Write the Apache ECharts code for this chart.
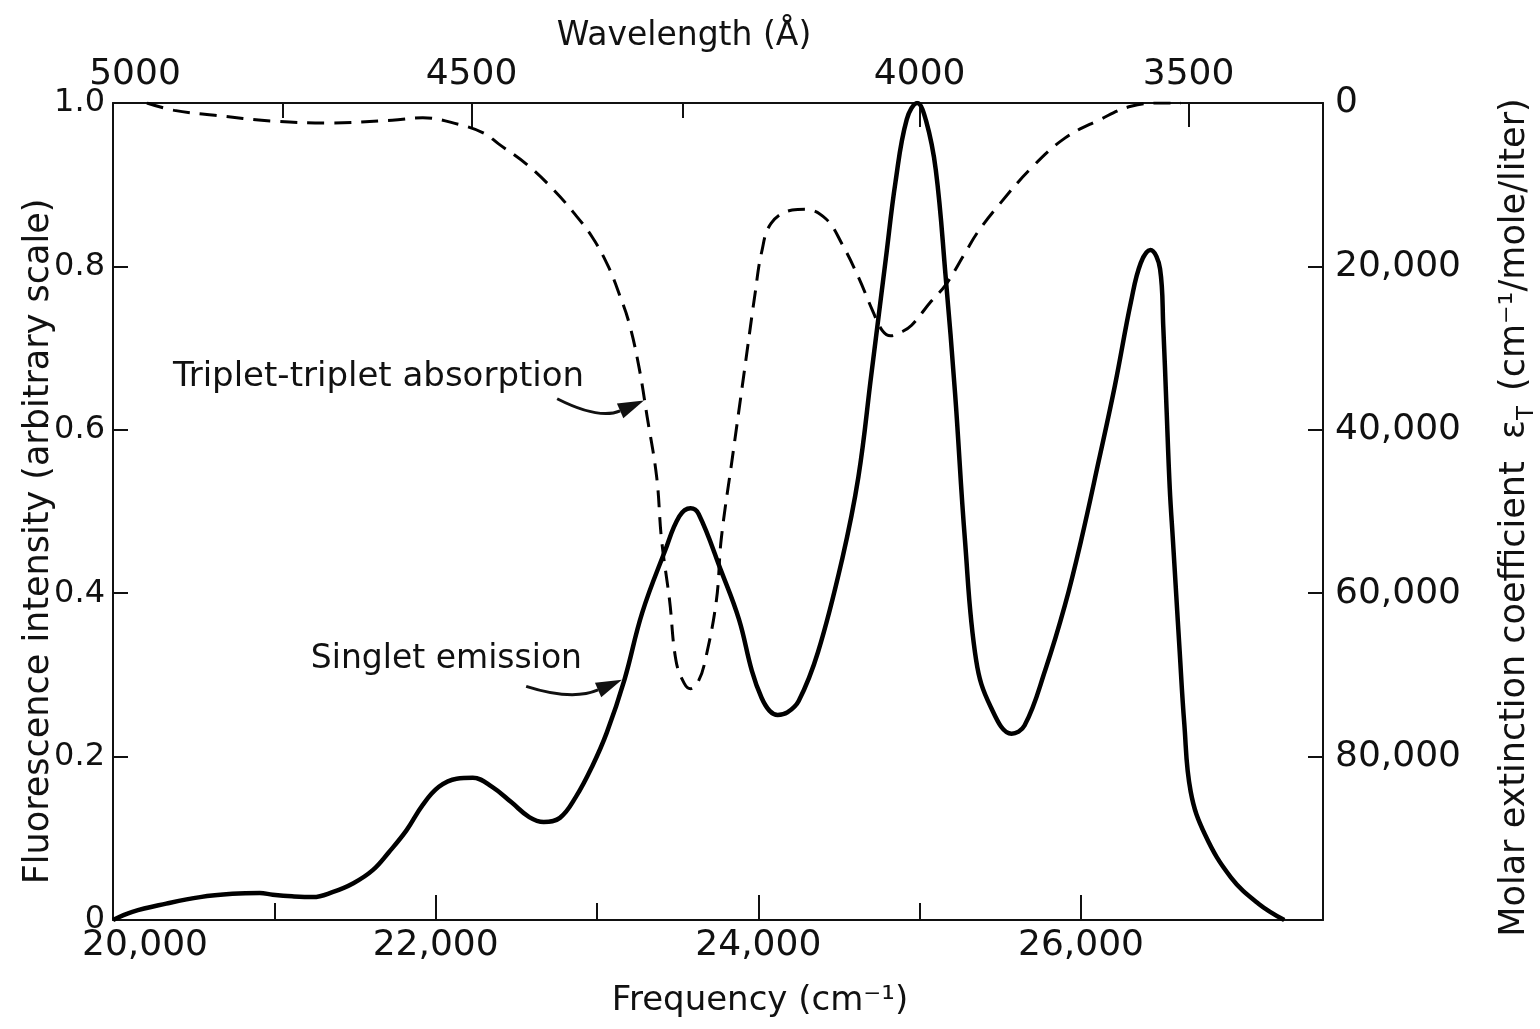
<!DOCTYPE html>
<html>
<head>
<meta charset="utf-8">
<script src="https://cdn.jsdelivr.net/npm/echarts@6/dist/echarts.min.js"></script>
<style>
html,body{margin:0;padding:0;background:#fff;}
#chart{width:1540px;height:1029px;}
</style>
</head>
<body>
<div id="chart"></div>
<script>
// ---- data ----
// Singlet emission (left axis, arbitrary fluorescence intensity)
const singletFreq = [20000,20120,20330,20540,20740,20910,20990,21110,21240,21360,21490,21610,21710,21820,21920,22020,22130,22230,22350,22470,22580,22670,22770,22870,22970,23060,23170,23280,23420,23510,23580,23630,23770,23880,23960,24020,24070,24120,24180,24250,24370,24520,24620,24700,24790,24850,24920,24985,25040,25100,25160,25220,25280,25350,25440,25570,25650,25780,25900,26000,26110,26210,26310,26370,26430,26490,26510,26530,26550,26570,26590,26610,26640,26680,26770,26930,27100,27260];
const singletIntensity = [0,0.010,0.020,0.028,0.032,0.033,0.031,0.029,0.028,0.034,0.045,0.061,0.083,0.110,0.141,0.163,0.173,0.174,0.163,0.144,0.126,0.120,0.125,0.151,0.188,0.229,0.294,0.376,0.451,0.494,0.504,0.497,0.427,0.368,0.305,0.272,0.256,0.251,0.254,0.268,0.328,0.442,0.542,0.667,0.809,0.903,0.980,1.000,0.978,0.918,0.790,0.643,0.467,0.318,0.261,0.228,0.238,0.307,0.385,0.464,0.562,0.654,0.757,0.804,0.820,0.797,0.726,0.627,0.529,0.464,0.399,0.334,0.241,0.157,0.104,0.052,0.020,0.000];

// Triplet-triplet absorption (right axis, molar extinction coefficient)
const tripletFreq = [20210,20380,20630,20980,21340,21730,21920,22140,22300,22390,22570,22730,22850,22970,23070,23140,23200,23260,23310,23370,23400,23450,23490,23540,23580,23630,23670,23740,23770,23840,23910,23980,24020,24080,24210,24290,24420,24520,24620,24710,24770,24820,24890,24950,25070,25160,25280,25360,25490,25690,25900,26110,26310,26520,26620];
const tripletEpsilon = [0,900,1500,2200,2450,2100,1800,2600,3700,5000,7600,10600,13300,16400,20000,23500,27000,32300,38300,45800,53400,60900,68300,71000,71700,70700,68300,60900,53400,43300,33300,23300,18300,14700,13100,13000,14200,17300,21300,25500,27900,28500,28000,27200,24300,22300,18400,15800,12500,8000,4300,2100,400,0,0];

// Axis ticks
const freqMajorTicks = [20000,22000,24000,26000];
const freqMinorTicks = [21000,23000,25000];
const intensityTicks = [0,0.2,0.4,0.6,0.8,1.0];
const epsilonTicks = [0,20000,40000,60000,80000,100000];
// Wavelength ticks on the top axis: label text and frequency position (cm^-1)
const wavelengthLabels = ['5000','','4500','','4000','3500'];
const wavelengthPos = [20000,21053,22222,23529,25000,26667];

// Annotations (data coordinates on the bottom/left axes)
const annotationTexts = ['Triplet-triplet absorption','Singlet emission'];
const annotationAnchors = [[22920,0.665],[22907,0.319]];
const annotationArrows = [
  [[22753,0.638],[23013,0.612],[23291,0.636]],
  [[22561,0.286],[22846,0.268],[23155,0.294]]
];

// ---- chart ----
const FONT = 'DejaVu Sans';
const INK = '#111';
const chart = echarts.init(document.getElementById('chart'), null, {renderer:'canvas'});

function pairs(xs, ys){ return xs.map((x,i)=>[x, ys[i]]); }
function commas(v){ return String(v).replace(/\B(?=(\d{3})+(?!\d))/g, ','); }

const axisLineOn = {show:true, lineStyle:{color:INK, width:2}};
const tickStyle = {color:INK, width:2};
const labelledWlPos = wavelengthPos.filter((p,i)=>wavelengthLabels[i]!=='');
const unlabelledWlPos = wavelengthPos.filter((p,i)=>wavelengthLabels[i]==='');

const option = {
  backgroundColor:'#fff',
  animation:false,
  grid:{left:113, right:217, top:103, bottom:109, containLabel:false, outerBoundsMode:'none'},
  xAxis:[
    {
      type:'value', position:'bottom', min:20000, max:27500,
      axisLine:axisLineOn,
      axisTick:{show:true, inside:true, length:25, lineStyle:tickStyle, customValues:freqMajorTicks},
      axisLabel:{
        show:true, margin:8, color:INK, fontFamily:FONT, fontSize:36,
        customValues:freqMajorTicks,
        formatter:function(v){ return v===20000 ? '{first|'+commas(v)+'}' : commas(v); },
        rich:{first:{fontFamily:FONT, fontSize:36, color:INK, padding:[0,0,0,64]}}
      },
      splitLine:{show:false},
      name:'Frequency (cm\u207B\u00B9)', nameLocation:'middle', nameGap:64, nameMoveOverlap:false,
      nameTextStyle:{fontFamily:FONT, fontSize:34, color:INK, padding:[0,0,0,84]}
    },
    {
      type:'value', position:'top', min:20000, max:27500,
      axisLine:axisLineOn,
      axisTick:{show:true, inside:true, length:24, lineStyle:tickStyle, customValues:labelledWlPos},
      axisLabel:{
        show:true, margin:10, color:INK, fontFamily:FONT, fontSize:36,
        customValues:labelledWlPos,
        formatter:function(v){
          const i = wavelengthPos.indexOf(v);
          const t = i>=0 ? wavelengthLabels[i] : '';
          return i===0 ? '{first|'+t+'}' : t;
        },
        rich:{first:{fontFamily:FONT, fontSize:36, color:INK, padding:[0,0,0,44]}}
      },
      splitLine:{show:false},
      name:'Wavelength (\u00C5)', nameLocation:'middle', nameGap:50, nameMoveOverlap:false,
      nameTextStyle:{fontFamily:FONT, fontSize:33, color:INK, padding:[0,68,0,0]}
    },
    {
      type:'value', position:'bottom', min:20000, max:27500,
      axisLine:{show:false},
      axisTick:{show:true, inside:true, length:17, lineStyle:tickStyle, customValues:freqMinorTicks},
      axisLabel:{show:false}, splitLine:{show:false}
    },
    {
      type:'value', position:'top', min:20000, max:27500,
      axisLine:{show:false},
      axisTick:{show:true, inside:true, length:15, lineStyle:tickStyle, customValues:unlabelledWlPos},
      axisLabel:{show:false}, splitLine:{show:false}
    }
  ],
  yAxis:[
    {
      type:'value', position:'left', min:0, max:1, interval:0.2,
      axisLine:axisLineOn,
      axisTick:{show:true, inside:true, length:15, lineStyle:tickStyle},
      axisLabel:{show:true, margin:8, color:INK, fontFamily:FONT, fontSize:32,
        formatter:function(v){ return v===0 ? '0' : v.toFixed(1); }},
      splitLine:{show:false},
      name:'Fluorescence intensity (arbitrary scale)', nameLocation:'middle', nameGap:57, nameRotate:90, nameMoveOverlap:false,
      nameTextStyle:{fontFamily:FONT, fontSize:35, color:INK, padding:[0,60,0,0]}
    },
    {
      type:'value', position:'right', min:0, max:100000, interval:20000, inverse:true,
      axisLine:axisLineOn,
      axisTick:{show:true, inside:true, length:15, lineStyle:tickStyle},
      axisLabel:{show:true, margin:12, color:INK, fontFamily:FONT, fontSize:36,
        formatter:function(v){ return v>=100000 ? '' : commas(v); }},
      splitLine:{show:false},
      name:'{a|Molar extinction coefficient  \u03B5}{s|T}{a| (cm\u207B\u00B9/mole/liter)}',
      nameLocation:'middle', nameGap:168, nameRotate:90, nameMoveOverlap:false,
      nameTextStyle:{fontFamily:FONT, fontSize:35, color:INK, padding:[0,12,0,0],
        rich:{
          a:{fontFamily:FONT, fontSize:35, color:INK, lineHeight:48, verticalAlign:'middle'},
          s:{fontFamily:FONT, fontSize:23, color:INK, lineHeight:48, verticalAlign:'bottom', padding:[0,4,0,0]}
        }}
    }
  ],
  series:[
    {
      name:'Singlet emission', type:'line', xAxisIndex:0, yAxisIndex:0,
      data:pairs(singletFreq, singletIntensity),
      smooth:0.4, showSymbol:false, symbol:'none',
      lineStyle:{color:'#000', width:4.5}, z:3
    },
    {
      name:'Triplet-triplet absorption', type:'line', xAxisIndex:0, yAxisIndex:1,
      data:pairs(tripletFreq, tripletEpsilon),
      smooth:0.4, showSymbol:false, symbol:'none',
      lineStyle:{color:'#000', width:3, type:[17,10]}, z:2
    }
  ]
};
chart.setOption(option);

// annotations positioned through the axes
function px(p){ return chart.convertToPixel({xAxisIndex:0, yAxisIndex:0}, p); }
const annotationFontSizes = [34, 33];
const graphics = [];
annotationTexts.forEach((t,i)=>{
  const a = px(annotationAnchors[i]);
  graphics.push({type:'text', x:a[0], y:a[1], style:{text:t, fontFamily:FONT, fontSize:annotationFontSizes[i], fill:INK, align:'right', verticalAlign:'middle'}, z:10});
  const pts = annotationArrows[i].map(px);
  const s = pts[0], c = pts[1], e = pts[2];
  const ang = Math.atan2(e[1]-c[1], e[0]-c[0]);
  const L = 26, W = 8;
  const bx = e[0]-L*Math.cos(ang), by = e[1]-L*Math.sin(ang);
  const nx = -Math.sin(ang), ny = Math.cos(ang);
  graphics.push({type:'bezierCurve', shape:{x1:s[0], y1:s[1], cpx1:c[0], cpy1:c[1], x2:bx, y2:by},
    style:{stroke:INK, lineWidth:3, fill:null}, z:10});
  graphics.push({type:'polygon', shape:{points:[[e[0],e[1]],[bx+nx*W,by+ny*W],[bx-nx*W,by-ny*W]]},
    style:{fill:INK}, z:10});
});
chart.setOption({graphic:graphics});
</script>
</body>
</html>
